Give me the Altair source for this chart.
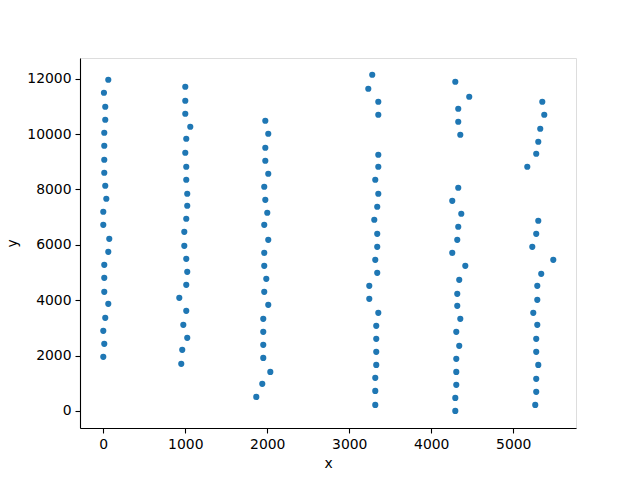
import altair as alt
import pandas as pd

# column near x = 0
x0 = [61, 8, 24, 24, 12, 12, 12, 12, 24, 37, 0, 0, 73, 61, 12, 12, 12, 61, 24, 0, 12, 0]
y0 = [11962, 11493, 10987, 10517, 10047, 9577, 9071, 8601, 8132, 7662, 7192, 6722,
      6216, 5746, 5276, 4807, 4301, 3867, 3361, 2891, 2421, 1952]
# column near x = 1000
x1 = [1000, 1000, 1000, 1061, 1012, 1000, 1012, 1012, 1024, 1024, 1012, 988, 988,
      1012, 1024, 1012, 927, 1012, 976, 1024, 963, 951]
y1 = [11709, 11203, 10734, 10264, 9830, 9324, 8818, 8348, 7842, 7409, 6939, 6469,
      5963, 5493, 5023, 4554, 4084, 3614, 3108, 2638, 2205, 1699]
# column near x = 2000
x2 = [1976, 2012, 1976, 1976, 2012, 1963, 1976, 2000, 1963, 2012, 1963, 1963, 1988,
      1963, 2012, 1951, 1951, 1951, 1951, 2037, 1939, 1866]
y2 = [10481, 10011, 9505, 9035, 8565, 8095, 7625, 7156, 6722, 6180, 5710, 5240, 4770,
      4301, 3831, 3325, 2855, 2385, 1915, 1409, 976, 506]
# column near x = 3000
x3 = [3280, 3232, 3354, 3354, 3354, 3354, 3317, 3354, 3341, 3305, 3341, 3341, 3317,
      3341, 3244, 3244, 3354, 3329, 3329, 3329, 3329, 3317, 3317, 3317]
y3 = [12143, 11637, 11167, 10697, 9252, 8818, 8348, 7842, 7373, 6903, 6397, 5927,
      5457, 4987, 4518, 4048, 3542, 3072, 2602, 2132, 1662, 1193, 723, 217]
# column near x = 4000
x4 = [4293, 4463, 4329, 4329, 4354, 4329, 4256, 4366, 4329, 4317, 4256, 4415, 4341,
      4317, 4317, 4354, 4305, 4341, 4305, 4305, 4305, 4293, 4293]
y4 = [11890, 11348, 10914, 10444, 9975, 8059, 7589, 7120, 6650, 6180, 5710, 5240,
      4734, 4228, 3795, 3325, 2855, 2349, 1879, 1409, 940, 470, 0]
# column near x = 5000
x5 = [5354, 5378, 5329, 5305, 5280, 5171, 5305, 5280, 5232, 5488, 5341, 5293, 5293,
      5244, 5293, 5280, 5280, 5305, 5280, 5280, 5268]
y5 = [11167, 10697, 10191, 9722, 9288, 8818, 6867, 6397, 5927, 5457, 4951, 4518,
      4012, 3542, 3108, 2602, 2132, 1662, 1157, 687, 217]

xs = x0 + x1 + x2 + x3 + x4 + x5
ys = y0 + y1 + y2 + y3 + y4 + y5
df = pd.DataFrame({"x": xs, "y": ys})

font = "DejaVu Sans"
axis_common = dict(
    grid=False, domainColor="black", domainWidth=1.1, tickColor="black", tickWidth=1.1,
    tickSize=5, labelColor="black", labelFont=font, labelFontSize=13.9,
    titleFont=font, titleFontSize=13.9, titleFontWeight="normal", titleColor="black",
    labelPadding=4,
)

chart = alt.Chart(df).mark_circle(size=38, opacity=1, color="#1f77b4").encode(
    x=alt.X("x:Q", scale=alt.Scale(domain=[-284, 5765], nice=False, zero=False),
            axis=alt.Axis(values=[0, 1000, 2000, 3000, 4000, 5000], format="d",
                          titlePadding=6, **axis_common)),
    y=alt.Y("y:Q", scale=alt.Scale(domain=[-618, 12747], nice=False, zero=False),
            axis=alt.Axis(values=[0, 2000, 4000, 6000, 8000, 10000, 12000], format="d",
                          titlePadding=7, **axis_common)),
).properties(
    width=496, height=370,
    autosize=alt.AutoSizeParams(type="none"),
    padding={"left": 72, "top": 50, "right": 56, "bottom": 45},
).configure_view(stroke=None).configure(background="white")

chart.save("out.html", embed_options={"renderer": "svg", "actions": False})
